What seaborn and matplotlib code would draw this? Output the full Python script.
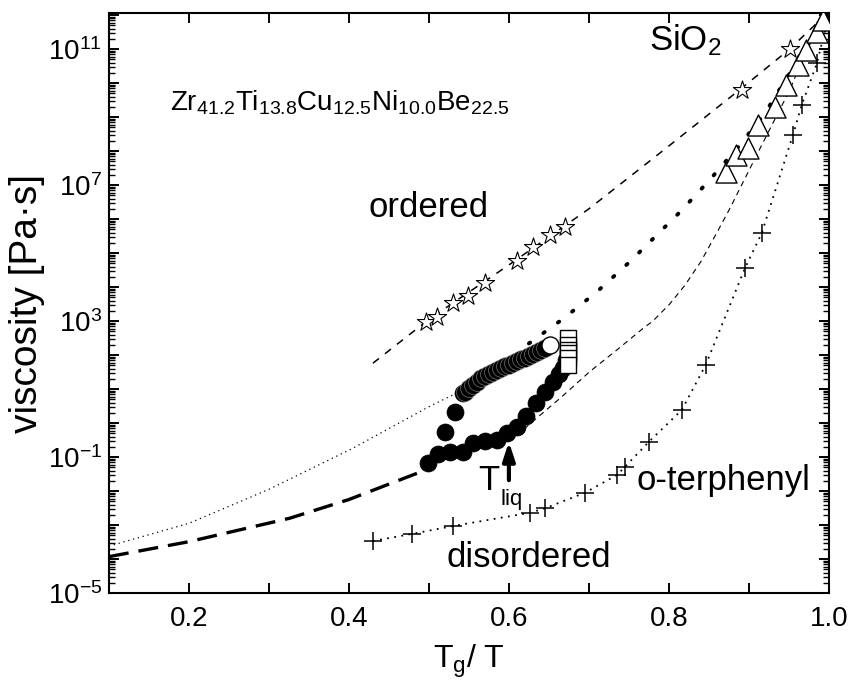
import numpy as np
import pandas as pd
import seaborn as sns
import matplotlib.pyplot as plt
from matplotlib.ticker import LogLocator, MultipleLocator, FuncFormatter, NullFormatter

# T_g/T values and log10(viscosity / Pa s)
star_x = [0.496, 0.51, 0.53, 0.549, 0.57, 0.61, 0.63, 0.651, 0.67, 0.891, 0.951]
star_logy = [2.98, 3.13, 3.52, 3.74, 4.11, 4.78, 5.19, 5.53, 5.77, 9.81, 10.99]

tri_x = [0.872, 0.884, 0.899, 0.912, 0.9325, 0.947, 0.962, 0.972, 0.985, 0.993]
tri_logy = [7.39, 7.88, 8.10, 8.76, 9.30, 9.94, 10.53, 10.97, 11.51, 11.85]

cross_x = [0.43, 0.479, 0.530, 0.626, 0.645, 0.695, 0.735, 0.745, 0.775, 0.816,
           0.846, 0.895, 0.916, 0.955, 0.966, 0.985]
cross_logy = [-3.47, -3.26, -3.03, -2.64, -2.51, -2.05, -1.53, -1.29, -0.55, 0.38,
              1.71, 4.55, 5.58, 8.47, 9.35, 10.58]

# Zr41.2Ti13.8Cu12.5Ni10.0Be22.5 : lower branch, filled circles
circ_x = [0.499, 0.511, 0.526, 0.543, 0.555, 0.57, 0.585, 0.598, 0.61, 0.622,
          0.634, 0.645, 0.655, 0.663, 0.668, 0.672, 0.52, 0.5325, 0.543]
circ_logy = [-1.19, -0.90, -0.86, -0.84, -0.60, -0.52, -0.50, -0.30, -0.11, 0.22,
             0.58, 0.90, 1.21, 1.45, 1.61, 1.85, -0.26, 0.32, 0.87]

# upper branch, dense overlapping circles
band_x = [0.545, 0.55, 0.555, 0.56, 0.565, 0.57, 0.575, 0.58, 0.585, 0.59, 0.595,
          0.60, 0.605, 0.61, 0.615, 0.62, 0.625, 0.63, 0.635, 0.64, 0.645]
band_logy = [0.92, 1.02, 1.12, 1.22, 1.31, 1.38, 1.45, 1.51, 1.57, 1.62, 1.67,
             1.72, 1.77, 1.82, 1.87, 1.92, 1.97, 2.03, 2.09, 2.15, 2.21]
open_x = [0.651]
open_logy = [2.29]

sq_x = [0.674, 0.674, 0.674, 0.674, 0.674, 0.674]
sq_logy = [2.51, 2.29, 2.15, 2.05, 1.90, 1.71]

# fit curves
fit_star_x = [0.43, 0.5, 0.6, 0.7, 0.8, 0.891, 0.951, 1.0]
fit_star_logy = [1.76, 3.05, 4.65, 6.3, 8.15, 9.85, 11.0, 12.1]

fit_tri_x = [0.625, 0.668, 0.71, 0.751, 0.814, 0.851, 0.887, 0.92, 0.947, 0.961, 1.0]
fit_tri_logy = [2.34, 3.07, 3.86, 4.74, 6.21, 7.15, 8.13, 9.11, 10.14, 10.63, 12.1]

fit_otp_x = [0.43, 0.479, 0.530, 0.626, 0.645, 0.695, 0.735, 0.745, 0.775, 0.816,
             0.846, 0.895, 0.916, 0.955, 0.966, 0.985, 1.0]
fit_otp_logy = [-3.47, -3.26, -3.03, -2.64, -2.51, -2.05, -1.53, -1.29, -0.55, 0.38,
                1.71, 4.55, 5.58, 8.47, 9.35, 10.58, 12.0]

fit_up_x = [0.1, 0.2, 0.3, 0.405, 0.5, 0.545]
fit_up_logy = [-3.62, -2.95, -1.95, -0.74, 0.48, 1.0]

fit_low_x = [0.1, 0.2, 0.326, 0.4, 0.485]
fit_low_logy = [-3.93, -3.49, -2.80, -2.25, -1.48]

fit_mid_x = [0.60, 0.664, 0.701, 0.735, 0.768, 0.78, 0.801, 0.82, 0.84, 0.86,
             0.876, 0.914, 0.951, 0.972, 1.0]
fit_mid_logy = [-0.55, 0.73, 1.51, 2.15, 2.79, 3.0, 3.5, 4.05, 4.75, 5.6,
                6.3, 8.08, 9.79, 10.97, 12.1]


def frame(x, logy):
    return pd.DataFrame({'x': x, 'y': 10.0 ** np.array(logy)})


sns.set_theme(style='ticks')
plt.rcParams['font.family'] = ['Liberation Sans', 'DejaVu Sans']
plt.rcParams['mathtext.fontset'] = 'custom'
plt.rcParams['mathtext.rm'] = 'Liberation Sans'
plt.rcParams['mathtext.it'] = 'Liberation Sans:italic'
plt.rcParams['mathtext.default'] = 'regular'
for k in ['text.color', 'axes.labelcolor', 'xtick.color', 'ytick.color', 'axes.edgecolor']:
    plt.rcParams[k] = 'black'

fig = plt.figure(figsize=(8.51, 6.89), dpi=100)
ax = fig.add_axes([0.128, 0.1393, 0.846, 0.8418])
ax.set_yscale('log')

# fit lines
line_kw = dict(ax=ax, x='x', y='y', sort=False, estimator=None, color='black', zorder=1)
sns.lineplot(data=frame(fit_star_x, fit_star_logy), lw=1.1, linestyle=(0, (5, 5)), **line_kw)
sns.lineplot(data=frame(fit_tri_x, fit_tri_logy), lw=2.8, linestyle=(0, (0.4, 4.2)),
             dash_capstyle='round', **line_kw)
sns.lineplot(data=frame(fit_otp_x, fit_otp_logy), lw=1.3, linestyle=(0, (1, 3)), **line_kw)
sns.lineplot(data=frame(fit_up_x, fit_up_logy), lw=0.9, linestyle=(0, (1, 3)), **line_kw)
sns.lineplot(data=frame(fit_low_x, fit_low_logy), lw=2.4, linestyle=(0, (6, 3)), **line_kw)
sns.lineplot(data=frame(fit_mid_x, fit_mid_logy), lw=0.8, linestyle=(0, (5, 4)), **line_kw)

# data points
sns.scatterplot(data=frame(star_x, star_logy), x='x', y='y', ax=ax, marker='*', s=190,
                facecolor='white', edgecolor='black', linewidth=0.8, zorder=3)
sns.scatterplot(data=frame(tri_x, tri_logy), x='x', y='y', ax=ax, marker='^', s=230,
                facecolor='white', edgecolor='black', linewidth=1.0, zorder=3)
sns.scatterplot(data=frame(cross_x, cross_logy), x='x', y='y', ax=ax, marker='+', s=160,
                color='black', linewidth=1.1, zorder=3)
sns.scatterplot(data=frame(circ_x, circ_logy), x='x', y='y', ax=ax, marker='o', s=150,
                facecolor='black', edgecolor='black', linewidth=0.5, zorder=3)
sns.scatterplot(data=frame(band_x, band_logy), x='x', y='y', ax=ax, marker='o', s=165,
                facecolor='black', edgecolor='0.75', linewidth=0.3, zorder=3)
sns.scatterplot(data=frame(open_x, open_logy), x='x', y='y', ax=ax, marker='o', s=150,
                facecolor='white', edgecolor='black', linewidth=1.0, zorder=4)
sns.scatterplot(data=frame(sq_x, sq_logy), x='x', y='y', ax=ax, marker='s', s=120,
                facecolor='white', edgecolor='black', linewidth=1.0, zorder=4)

# axes
ax.set_xlim(0.1, 1.0)
ax.set_ylim(1e-5, 10 ** 12.06)
ax.set_xticks([0.2, 0.4, 0.6, 0.8, 1.0])
ax.xaxis.set_minor_locator(MultipleLocator(0.1))
ax.yaxis.set_major_locator(LogLocator(base=10, numticks=40))
ax.yaxis.set_minor_locator(LogLocator(base=10, subs=np.arange(2, 10), numticks=40))
ax.yaxis.set_minor_formatter(NullFormatter())


def ylab(v, pos):
    e = int(round(np.log10(v)))
    return r'$10^{%d}$' % e if e in (-5, -1, 3, 7, 11) else ''


ax.yaxis.set_major_formatter(FuncFormatter(ylab))
ax.xaxis.set_major_formatter(FuncFormatter(lambda v, p: '%.1f' % v))

ax.tick_params(which='both', direction='in', top=True, right=True, width=1.4,
               labelsize=20, colors='black')
ax.tick_params(which='major', length=7)
ax.tick_params(axis='y', which='minor', length=4, width=1.0)
ax.tick_params(axis='x', which='minor', length=7)
ax.tick_params(axis='x', pad=9)
ax.tick_params(axis='y', pad=5)
for s in ax.spines.values():
    s.set_linewidth(1.5)

ax.set_xlabel('T$_g$/ T', fontsize=23, labelpad=8)
ax.set_ylabel('viscosity [Pa·s]', fontsize=28)
ax.yaxis.set_label_coords(-0.089, 0.5)

# annotations
ax.text(0.176, 10 ** 9.2, r'Zr$_{41.2}$Ti$_{13.8}$Cu$_{12.5}$Ni$_{10.0}$Be$_{22.5}$',
        fontsize=20, va='baseline')
ax.text(0.775, 10 ** 10.97, 'SiO$_2$', fontsize=25, va='baseline')
ax.text(0.424, 10 ** 6.06, 'ordered', fontsize=25, va='baseline')
ax.text(0.5225, 10 ** -4.22, 'disordered', fontsize=25, va='baseline')
ax.text(0.76, 10 ** -1.97, 'o-terphenyl', fontsize=25, va='baseline')
ax.text(0.562, 10 ** -1.97, 'T', fontsize=25, va='baseline')
ax.text(0.589, 10 ** -2.41, 'liq', fontsize=16, va='baseline')
ax.annotate('', xy=(0.6, 10 ** -0.55), xytext=(0.6, 10 ** -1.68),
            arrowprops=dict(arrowstyle='-|>,head_width=0.18,head_length=0.55',
                            mutation_scale=20, lw=3, color='black',
                            shrinkA=0, shrinkB=0))

plt.savefig('out.png', dpi=100)
